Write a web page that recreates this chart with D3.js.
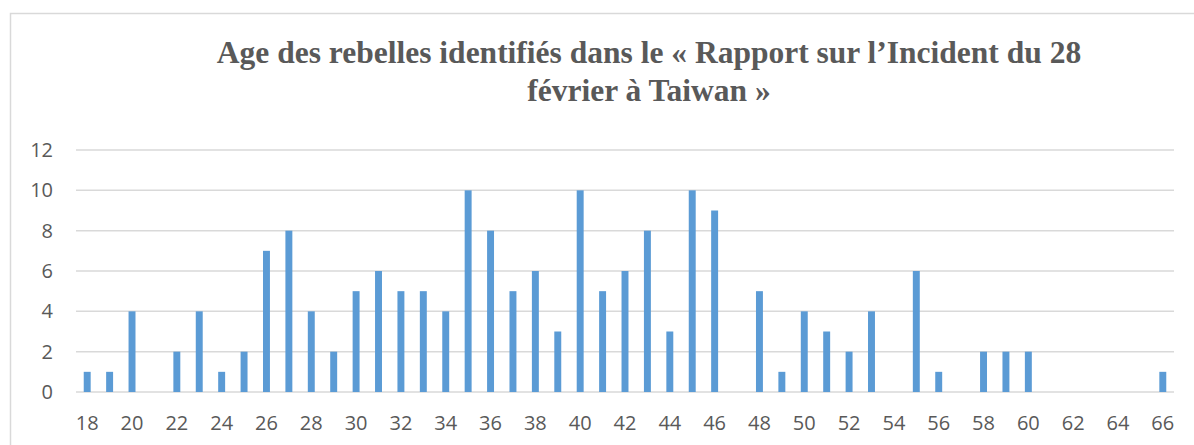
<!DOCTYPE html>
<html>
<head>
<meta charset="utf-8">
<script src="https://cdn.jsdelivr.net/npm/d3@7"></script>
<style>
  body { margin: 0; background: #fff; }
  .lbl { font-family: "Open Sans", sans-serif; font-size: 20px; fill: #595959; }
</style>
</head>
<body>
<script>
var ages = d3.range(18, 67);
var counts = [1, 1, 4, 0, 2, 4, 1, 2, 7, 8, 4, 2, 5, 6, 5, 5, 4, 10, 8, 5, 6, 3, 10, 5, 6, 8, 3, 10, 9, 0,
              5, 1, 4, 3, 2, 4, 0, 6, 1, 0, 2, 2, 2, 0, 0, 0, 0, 0, 1];
var yTicks = [0, 2, 4, 6, 8, 10, 12];
var titleLines = ['Age des rebelles identifiés dans le « Rapport sur l\u2019Incident du 28',
                  'février à Taiwan »'];

var width = 1194,
    height = 445,
    plotLeft = 76, plotRight = 1174,
    plotTop = 150, plotBottom = 392;

var data = ages.map((a, i) => ({age: a, n: counts[i]}));

var svg = d3.select('body')
    .append('svg')
    .attr('width', width)
    .attr('height', height)

// chart border
svg.append('rect')
    .attr('x', 10.5).attr('y', 13.5)
    .attr('width', width).attr('height', height)
    .attr('fill', 'none')
    .attr('stroke', '#d9d9d9')
    .attr('stroke-width', 1.5);

var x = d3.scaleBand()
    .domain(ages)
    .range([plotLeft, plotRight])
    .paddingInner(0.69)
    .paddingOuter(0.345);

var y = d3.scaleLinear()
    .domain([0, 12])
    .range([plotBottom, plotTop]);

// gridlines
svg.append('g')
    .selectAll('line')
    .data(yTicks)
    .enter()
    .append('line')
    .attr('x1', plotLeft).attr('x2', plotRight)
    .attr('y1', d => y(d)).attr('y2', d => y(d))
    .attr('stroke', '#d9d9d9')
    .attr('stroke-width', 1.5);

// y labels
svg.append('g')
    .selectAll('text')
    .data(yTicks)
    .enter()
    .append('text')
    .attr('class', 'lbl')
    .attr('x', plotLeft - 23)
    .attr('y', d => y(d))
    .attr('dy', '0.35em')
    .attr('text-anchor', 'end')
    .text(d => d);

// x labels (every second age)
svg.append('g')
    .selectAll('text')
    .data(ages.filter(a => a % 2 === 0))
    .enter()
    .append('text')
    .attr('class', 'lbl')
    .attr('x', d => x(d) + x.bandwidth() / 2)
    .attr('y', plotBottom + 38)
    .attr('text-anchor', 'middle')
    .text(d => d);

// bars
svg.append('g')
    .selectAll('rect')
    .data(data)
    .enter()
    .append('rect')
    .attr('x', d => x(d.age))
    .attr('width', x.bandwidth())
    .attr('y', d => y(d.n))
    .attr('height', d => y(0) - y(d.n))
    .attr('fill', '#5b9bd5');

// title
svg.append('g')
    .selectAll('text')
    .data(titleLines)
    .enter()
    .append('text')
    .attr('x', 649)
    .attr('y', (d, i) => 63 + i * 38)
    .attr('text-anchor', 'middle')
    .attr('fill', '#595959')
    .style('font-family', '"Liberation Serif", "Times New Roman", serif')
    .style('font-weight', 'bold')
    .style('font-size', '31.5px')
    .text(d => d);
</script>
</body>
</html>
